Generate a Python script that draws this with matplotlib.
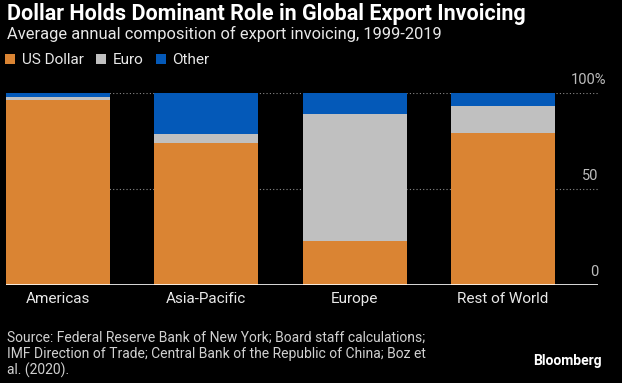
import matplotlib.pyplot as plt
import matplotlib.transforms as mtransforms
import numpy as np

regions = ["Americas", "Asia-Pacific", "Europe", "Rest of World"]
us_dollar = [96.3, 73.8, 22.9, 79.3]
euro = [1.8, 4.8, 66.1, 13.9]
other = [1.9, 21.4, 11.0, 6.8]
series_names = ["US Dollar", "Euro", "Other"]
y_ticks = [0, 50, 100]
y_tick_labels = ["0", "50", "100%"]

ORANGE = "#DA8433"
GREY = "#C0C0C0"
BLUE = "#0459B8"
TEXT = "#E8E8E8"

plt.rcParams['font.family'] = ['Roboto', 'DejaVu Sans']

fig = plt.figure(figsize=(6.22, 3.83), dpi=100, facecolor="black")
ax = fig.add_axes([6 / 622, 98 / 383, 592 / 622, 192 / 383])
ax.set_facecolor("black")

x = np.arange(len(regions))
w = 0.7

# gridlines behind bars
for yv in y_ticks[1:]:
    ax.axhline(yv, color="#8a8a8a", lw=0.8, ls=(0, (1, 2)), zorder=0)

b1 = ax.bar(x, us_dollar, w, color=ORANGE, zorder=2)
b2 = ax.bar(x, euro, w, bottom=us_dollar, color=GREY, zorder=2)
b3 = ax.bar(x, other, w, bottom=np.array(us_dollar) + np.array(euro), color=BLUE, zorder=2)

ax.axhline(0, color="white", lw=1.2, zorder=3)

ax.set_xlim(-0.35, 3.64)
ax.set_ylim(0, 100)
for s in ax.spines.values():
    s.set_visible(False)
ax.set_yticks([])
ax.set_xticks(x)
ax.set_xticklabels(regions, color=TEXT, fontsize=11)
ax.tick_params(axis="x", length=0, pad=5)

# right-side labels sit just above their gridlines
trans = mtransforms.blended_transform_factory(ax.transAxes, ax.transData)
for yv, lab in zip(y_ticks, y_tick_labels):
    xpos = 1.0 + (8 / 592 if lab.endswith("%") else 0)
    ax.text(xpos, yv + 7, lab, transform=trans, ha="right", va="center",
            color="#BDBDBD", fontsize=10.5)

fig.text(7 / 622, 1 - 14 / 383, "Dollar Holds Dominant Role in Global Export Invoicing",
         color="white", fontsize=15.5, fontweight="bold", va="center", ha="left")
fig.text(7 / 622, 1 - 34 / 383, "Average annual composition of export invoicing, 1999-2019",
         color=TEXT, fontsize=11.9, va="center", ha="left")

fig.legend([b1, b2, b3], series_names, loc="center left",
           bbox_to_anchor=(5 / 622, 1 - 60 / 383), ncol=3, frameon=False,
           handlelength=0.65, handleheight=0.65, handletextpad=0.45,
           columnspacing=0.8, fontsize=11, labelcolor=TEXT,
           borderaxespad=0, borderpad=0)

source = ("Source: Federal Reserve Bank of New York; Board staff calculations;\n"
          "IMF Direction of Trade; Central Bank of the Republic of China; Boz et\n"
          "al. (2020).")
fig.text(7 / 622, 1 - 331 / 383, source, color="#D0D0D0", fontsize=10,
         va="top", ha="left", linespacing=1.15)
fig.text(602 / 622, 1 - 361 / 383, "Bloomberg", color="white", fontsize=10,
         fontweight="bold", va="center", ha="right")

fig.savefig("out.png", dpi=100, facecolor="black")
